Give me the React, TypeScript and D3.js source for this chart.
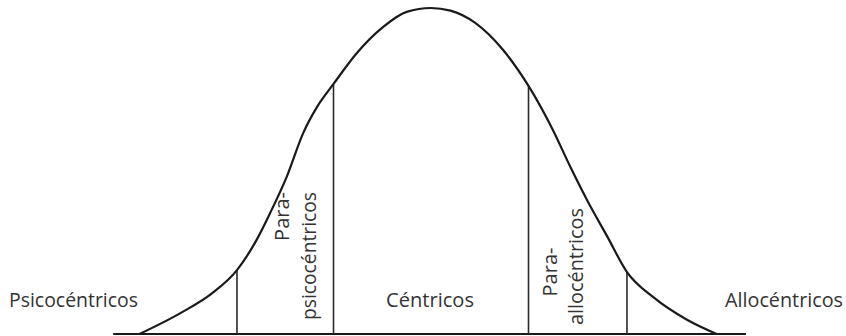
import React from "react";
import * as d3 from "d3";

// curve: z in standard deviations, h as share of peak height
const curveZ = [
  -2.99, -2.57, -2.24, -1.99, -1.79, -1.65, -1.48, -1.31, -1.17, -1.0, -0.76, -0.49, -0.25, 0,
  0.2, 0.45, 0.74, 1.0, 1.25, 1.43, 1.6, 1.81, 2.01, 2.28, 2.63, 2.93,
];
const curveH = [
  0, 0.064, 0.126, 0.196, 0.288, 0.371, 0.482, 0.617, 0.696, 0.767, 0.862, 0.942, 0.988, 1,
  0.992, 0.955, 0.871, 0.761, 0.626, 0.512, 0.411, 0.298, 0.19, 0.113, 0.043, 0,
];

// vertical dividers
const dividerZ = [-1.99, -1.0, 1.0, 2.01];
const dividerH = [0.196, 0.767, 0.761, 0.19];

const sideLabels = ["Psicocéntricos", "Céntricos", "Allocéntricos"];
const paraLabels = [
  ["Para-", "psicocéntricos"],
  ["Para-", "allocéntricos"],
];

const width = 846;
const height = 336;

export default function App() {
  const x = d3.scaleLinear().domain([-3, 3]).range([138.5, 723.5]);
  const y = d3.scaleLinear().domain([0, 1]).range([334, 8]);

  const points = curveZ.map((z, i) => [z, curveH[i]] as [number, number]);
  const line = d3
    .line<[number, number]>()
    .x((d) => x(d[0]))
    .y((d) => y(d[1]))
    .curve(d3.curveMonotoneX);

  const font = "'Open Sans', sans-serif";
  const textColor = "#333";
  const fs = 20;

  return (
    <svg
      width={width}
      height={height}
      style={{ position: "absolute", left: 0, top: 0, background: "#fff" }}
    >
      <line
        x1={x(-3.26)}
        x2={x(3.23)}
        y1={y(0)}
        y2={y(0)}
        stroke="#1a1a1a"
        strokeWidth={2.2}
      />
      {dividerZ.map((z, i) => (
        <line
          key={i}
          x1={x(z)}
          x2={x(z)}
          y1={y(0)}
          y2={y(dividerH[i])}
          stroke="#2a2a2a"
          strokeWidth={1.6}
        />
      ))}
      <path d={line(points) ?? ""} fill="none" stroke="#1a1a1a" strokeWidth={2.2} />

      <g fontFamily={font} fontSize={fs} fill={textColor}>
        <text x={9} y={307} textLength={129} lengthAdjust="spacingAndGlyphs">
          {sideLabels[0]}
        </text>
        <text x={386} y={307} textLength={88} lengthAdjust="spacingAndGlyphs">
          {sideLabels[1]}
        </text>
        <text x={725} y={307} textLength={118} lengthAdjust="spacingAndGlyphs">
          {sideLabels[2]}
        </text>

        <text transform={`translate(289,192) rotate(-90)`} textAnchor="end">
          {paraLabels[0][0]}
        </text>
        <text
          transform={`translate(316,320) rotate(-90)`}
          textLength={128}
          lengthAdjust="spacingAndGlyphs"
        >
          {paraLabels[0][1]}
        </text>
        <text transform={`translate(557,272) rotate(-90)`} textAnchor="middle">
          {paraLabels[1][0]}
        </text>
        <text
          transform={`translate(583,325) rotate(-90)`}
          textLength={117}
          lengthAdjust="spacingAndGlyphs"
        >
          {paraLabels[1][1]}
        </text>
      </g>
    </svg>
  );
}
